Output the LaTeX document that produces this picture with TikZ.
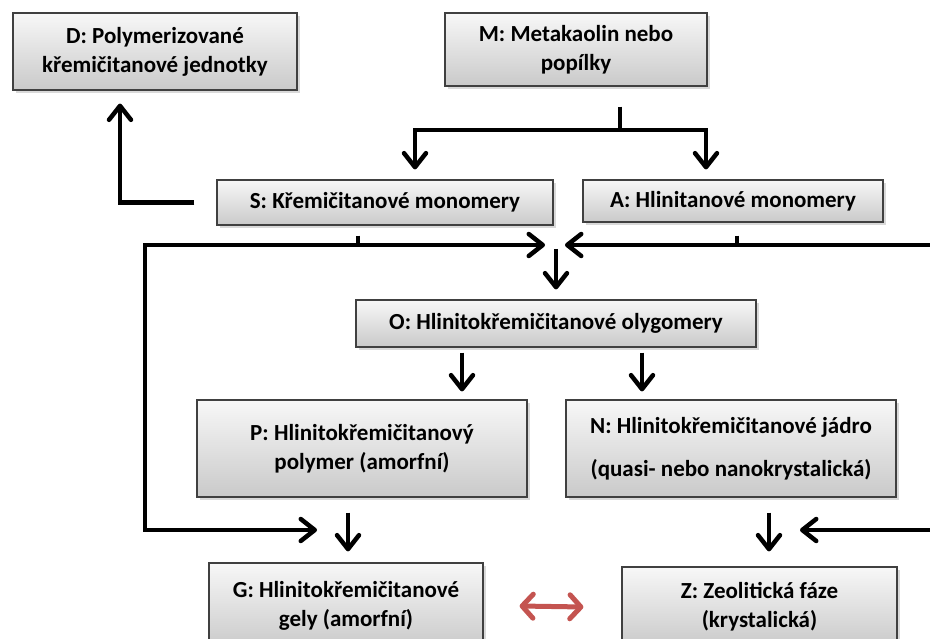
\documentclass[tikz,border=0pt]{standalone}
\usepackage{fontspec}
\setmainfont{Carlito}
\usetikzlibrary{arrows.meta,shadows}
\definecolor{redarrow}{RGB}{196,84,80}
\begin{document}
\begin{tikzpicture}[x=1pt,y=-1pt,
	box/.style={draw=black!75, line width=1.2pt, top color=gray!6, bottom color=gray!42,
		drop shadow={shadow xshift=3pt,shadow yshift=-3pt,opacity=0.3},
		align=center, inner sep=0pt, font=\fontsize{23}{29}\selectfont\bfseries},
	flowline/.style={line width=4.5pt},
	flow/.style={line width=4.5pt, -{Straight Barb[length=14pt,width=22pt,round]}},
	twoway/.style={line width=5pt, redarrow, {Straight Barb[length=11pt,width=24pt,round]}-{Straight Barb[length=11pt,width=24pt,round]}}]
	\useasboundingbox (0,0) rectangle (930,639);
	\clip (0,0) rectangle (930,639);
	%boxes
	\node[box, minimum width=284pt, minimum height=77pt] (D) at (155,51.5) {D: Polymerizované\\křemičitanové jednotky};
	\node[box, minimum width=262pt, minimum height=73pt] (M) at (576,49.5) {M: Metakaolin nebo\\popílky};
	\node[box, minimum width=336pt, minimum height=45pt] (S) at (385,202.5) {S: Křemičitanové monomery};
	\node[box, minimum width=300pt, minimum height=42pt] (A) at (733,201) {A: Hlinitanové monomery};
	\node[box, minimum width=400pt, minimum height=47pt] (O) at (556,323.5) {O: Hlinitokřemičitanové olygomery};
	\node[box, minimum width=330pt, minimum height=97pt] (P) at (362,448.5) {P: Hlinitokřemičitanový\\polymer (amorfní)};
	\node[box, minimum width=330pt, minimum height=97pt] (N) at (731,448.5) {N: Hlinitokřemičitanové jádro\\[14pt](quasi- nebo nanokrystalická)};
	\node[box, minimum width=274pt, minimum height=86pt] (G) at (346,606) {G: Hlinitokřemičitanové\\gely (amorfní)};
	\node[box, minimum width=275pt, minimum height=80pt] (Z) at (759.5,607) {Z: Zeolitická fáze\\(krystalická)};
	
	%junctions
	\coordinate (mj) at (620,130);
	\coordinate (sj) at (358,245);
	\coordinate (aj) at (737,245);
	\coordinate (oj) at (556,245);
	\coordinate (lc) at (145,245);
	\coordinate (rc) at (936,245);
	\coordinate (gj) at (348,530);
	\coordinate (zj) at (769,530);
	
	%M splits into S and A
	\draw[flowline] ([xshift=44pt,yshift=-20pt]M.south) -- (mj);
	\draw[flow] (mj) -| ([xshift=30pt,yshift=10pt]S.north);
	\draw[flow] (mj) -| ([xshift=-27pt,yshift=10pt]A.north);
	%S to D
	\draw[flow] ([xshift=-22pt]S.west) -| ([xshift=-35pt,yshift=-13pt]D.south);
	%S and A to O
	\draw[flowline, shorten <=10pt] (sj |- S.south) -- (sj);
	\draw[flowline, shorten <=13pt] (aj |- A.south) -- (aj);
	\draw[flow, shorten >=11pt] (sj) -- (oj);
	\draw[flow, shorten >=9pt] (aj) -- (oj);
	\draw[flow, shorten <=4pt] (oj) -- ([yshift=10pt]O.north);
	%loops to G and Z
	\draw[flow, shorten >=31pt] (sj) -- (lc) |- (gj);
	\draw[flow, shorten >=31pt] (aj) -- (rc) |- (zj);
	%O to P and N
	\draw[flow] ([xshift=-94pt,yshift=-5pt]O.south) -- ([xshift=100pt,yshift=8pt]P.north);
	\draw[flow] ([xshift=86pt,yshift=-5pt]O.south) -- ([xshift=-89pt,yshift=8pt]N.north);
	%P to G, N to Z
	\draw[flow] ([xshift=-14pt,yshift=-15pt]P.south) -- ([xshift=2pt,yshift=11pt]G.north);
	\draw[flow] ([xshift=38pt,yshift=-15pt]N.south) -- ([xshift=9.5pt,yshift=15pt]Z.north);
	%G and Z
	\draw[twoway] ([xshift=36pt]G.east) -- ([xshift=-38pt]Z.west);
\end{tikzpicture}
\end{document}
